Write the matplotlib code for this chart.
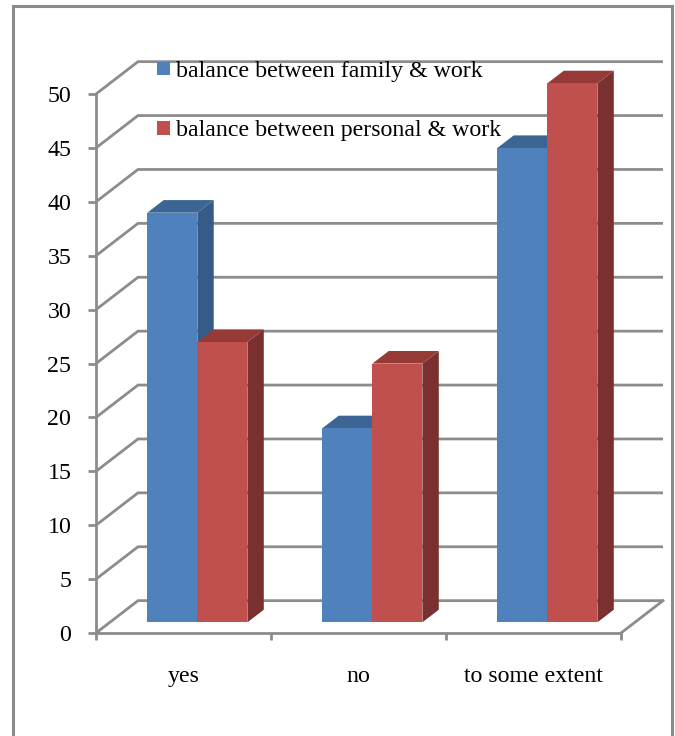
import matplotlib
matplotlib.use("Agg")
import matplotlib.pyplot as plt
from matplotlib.patches import Polygon, Patch, Rectangle

CATEGORIES = ["yes", "no", "to some extent"]
SERIES = ["balance between family & work", "balance between personal & work"]
FAMILY_WORK = [38, 18, 44]
PERSONAL_WORK = [26, 24, 50]
Y_TICKS = list(range(0, 55, 5))

# face colours: front, top, side
BLUE = ("#4f81bd", "#3c6595", "#375b88")
RED = ("#c0504d", "#953a37", "#7a302e")
GRID = "#8c8c8c"

W, H, DPI = 675, 736, 100
# oblique depth of floor and walls, in data units (category, value)
DX, DY = 0.24, 3.0
BAR_W = 0.286
BAR_Z0, BAR_Z1 = 0.33, 0.72   # bar front/back as a fraction of the full depth

plt.rcParams["font.family"] = ["Liberation Serif", "DejaVu Serif"]
FS = 17.2

fig = plt.figure(figsize=(W / DPI, H / DPI), dpi=DPI)
ax = fig.add_axes([96 / W, 103 / H, 525 / W, 539 / H])
ax.set_xlim(0, len(CATEGORIES))
ax.set_ylim(0, 50)
ncat = len(CATEGORIES)

# back wall and left wall gridlines
for y in Y_TICKS:
    ax.plot([0, DX, ncat + DX], [y, y + DY, y + DY], color=GRID, lw=2.0,
            solid_capstyle="butt", solid_joinstyle="miter", clip_on=False, zorder=1)
# right edge of the floor
ax.plot([ncat, ncat + DX], [0, DY], color=GRID, lw=2.0, clip_on=False, zorder=1)


def box(x0, h, colors):
    ox, oy = DX * BAR_Z0, DY * BAR_Z0
    bx, by = DX * (BAR_Z1 - BAR_Z0), DY * (BAR_Z1 - BAR_Z0)
    xl, xr = x0 + ox, x0 + ox + BAR_W
    front = Rectangle((xl, oy), BAR_W, h, facecolor=colors[0], lw=0)
    top = Polygon([(xl, oy + h), (xr, oy + h), (xr + bx, oy + h + by), (xl + bx, oy + h + by)],
                  facecolor=colors[1], lw=0)
    side = Polygon([(xr, oy), (xr + bx, oy + by), (xr + bx, oy + h + by), (xr, oy + h)],
                   facecolor=colors[2], lw=0)
    for p in (side, top, front):
        p.set_clip_on(False)
        p.set_zorder(3)
        ax.add_patch(p)


for i in range(ncat):
    box(i + 0.5 - BAR_W, FAMILY_WORK[i], BLUE)
    box(i + 0.5, PERSONAL_WORK[i], RED)

for s in ("top", "right"):
    ax.spines[s].set_visible(False)
for s in ("left", "bottom"):
    ax.spines[s].set_color(GRID)
    ax.spines[s].set_linewidth(2.0)
ax.set_facecolor("none")

ax.set_yticks(Y_TICKS)
ax.tick_params(axis="y", length=5.8, width=2.0, color=GRID, pad=12, labelsize=FS)
ax.set_xticks(range(ncat + 1))
ax.set_xticklabels([])
ax.tick_params(axis="x", length=5, width=2.0, color=GRID)

px_per_val = 539 / 50
for i, cat in enumerate(CATEGORIES):
    ax.text(i + 0.5, -49 / px_per_val, cat, ha="center", va="baseline",
            fontsize=FS, clip_on=False)

handles = [Patch(facecolor=BLUE[0]), Patch(facecolor=RED[0])]
ax.legend(handles, SERIES, loc="upper left", bbox_to_anchor=(157 / W, 1 - 61 / H),
          bbox_transform=fig.transFigure, frameon=False, borderpad=0, borderaxespad=0,
          handlelength=0.55, handleheight=0.5, handletextpad=0.25, labelspacing=1.6,
          fontsize=FS)

# outer frame
fig.add_artist(Rectangle((13 / W, -0.01), (672 - 13) / W, (736 - 6) / H + 0.01,
                         transform=fig.transFigure, fill=False, edgecolor="#8a8a8a", lw=2.2))

fig.savefig("out.png", dpi=DPI)
